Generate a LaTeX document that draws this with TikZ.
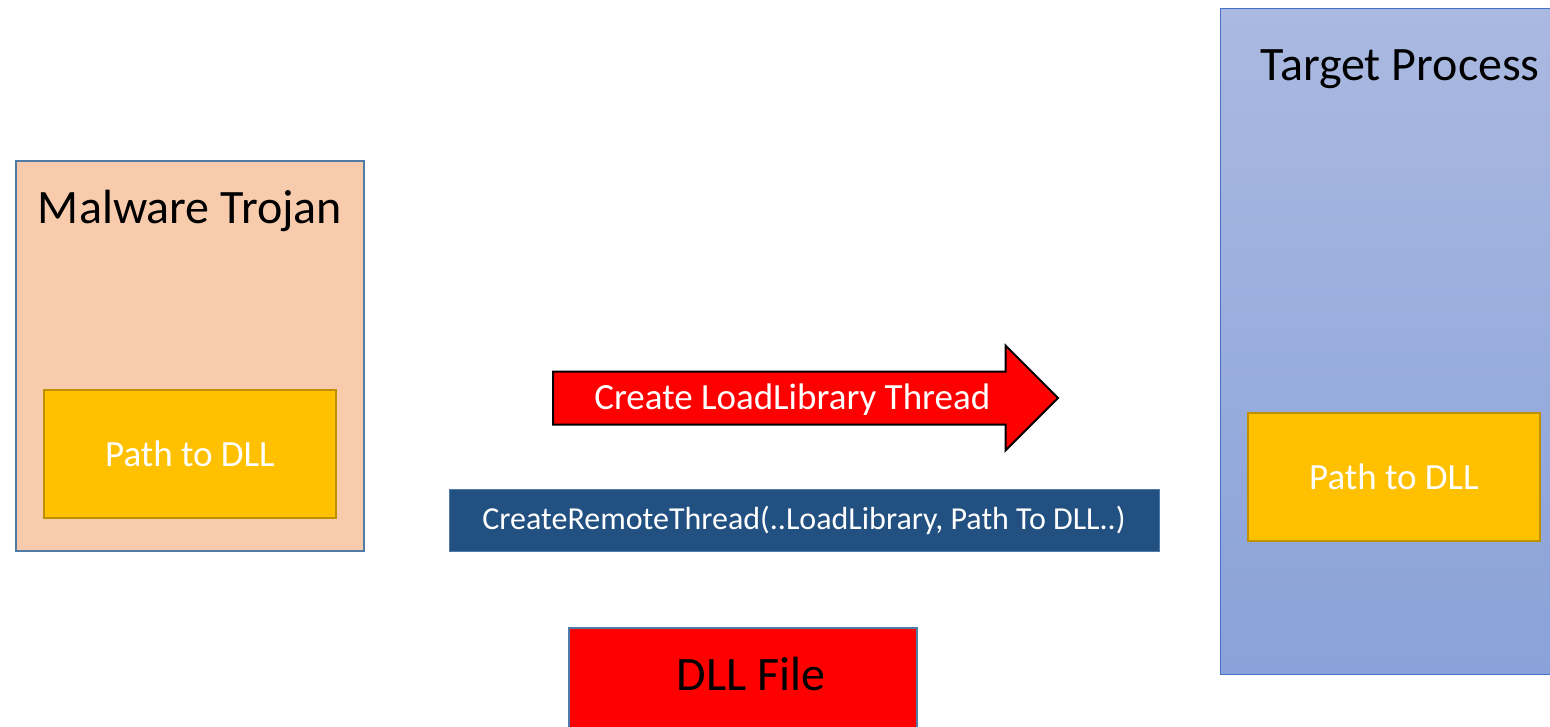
\documentclass[tikz,border=0pt]{standalone}
\usepackage{fontspec}
\setmainfont{Carlito}
\usetikzlibrary{positioning}
\usetikzlibrary{shapes.arrows}

\definecolor{trojanfill}{HTML}{F8CBAD}
\definecolor{frameblue}{HTML}{4F7BA8}
\definecolor{pathfill}{HTML}{FFC000}
\definecolor{pathedge}{HTML}{BF9000}
\definecolor{targettop}{HTML}{AAB9E1}
\definecolor{targetbottom}{HTML}{8AA2D9}
\definecolor{targetedge}{HTML}{4472C4}
\definecolor{callfill}{HTML}{215081}

\tikzset{
  bigtext/.style={font=\fontsize{48}{52}\selectfont},
  midtext/.style={font=\fontsize{37}{40}\selectfont},
  pathbox/.style={draw=pathedge, line width=2pt, fill=pathfill, text=white,
    midtext, minimum width=292pt, minimum height=128pt, inner sep=0pt}
}

\begin{document}
\begin{tikzpicture}[x=1pt, y=-1pt]
  \useasboundingbox (0,0) rectangle (1550,726);

  % the two processes
  \draw [frameblue, line width=2pt, fill=trojanfill] (16,161) rectangle (364,551);
  \node [bigtext, anchor=base] (trojan) at (190,223) {Malware Trojan};
  \node [pathbox] (srcpath) at (190,454) {Path to DLL};

  \draw [targetedge, line width=1pt, top color=targettop, bottom color=targetbottom]
    (1220,8) rectangle (1560,674);
  \node [bigtext, anchor=base] (target) at (1400,80) {Target Process};
  \node [pathbox] (dstpath) at (1394,477) {Path to DLL};

  % injection step
  \node [single arrow, draw=black, line width=2pt, fill=red, text=white, midtext,
         text height=30pt, text depth=7pt, inner xsep=6pt, inner ysep=7pt,
         single arrow head extend=26pt, single arrow tip angle=90,
         minimum height=505pt, anchor=tail] (thread) at (552,398)
    {Create LoadLibrary Thread};

  \node [draw=frameblue, fill=callfill, text=white, font=\fontsize{32}{35}\selectfont,
         minimum width=710pt, minimum height=62pt, inner sep=0pt]
    (call) at (804,520) {CreateRemoteThread(..LoadLibrary, Path To DLL..)};

  \node [draw=frameblue, line width=2pt, fill=red, bigtext,
         minimum width=348pt, minimum height=130pt, inner sep=0pt,
         text height=32pt, text depth=38pt]
    (dll) at (743,693) {\hspace*{16pt}DLL File};
\end{tikzpicture}
\end{document}
